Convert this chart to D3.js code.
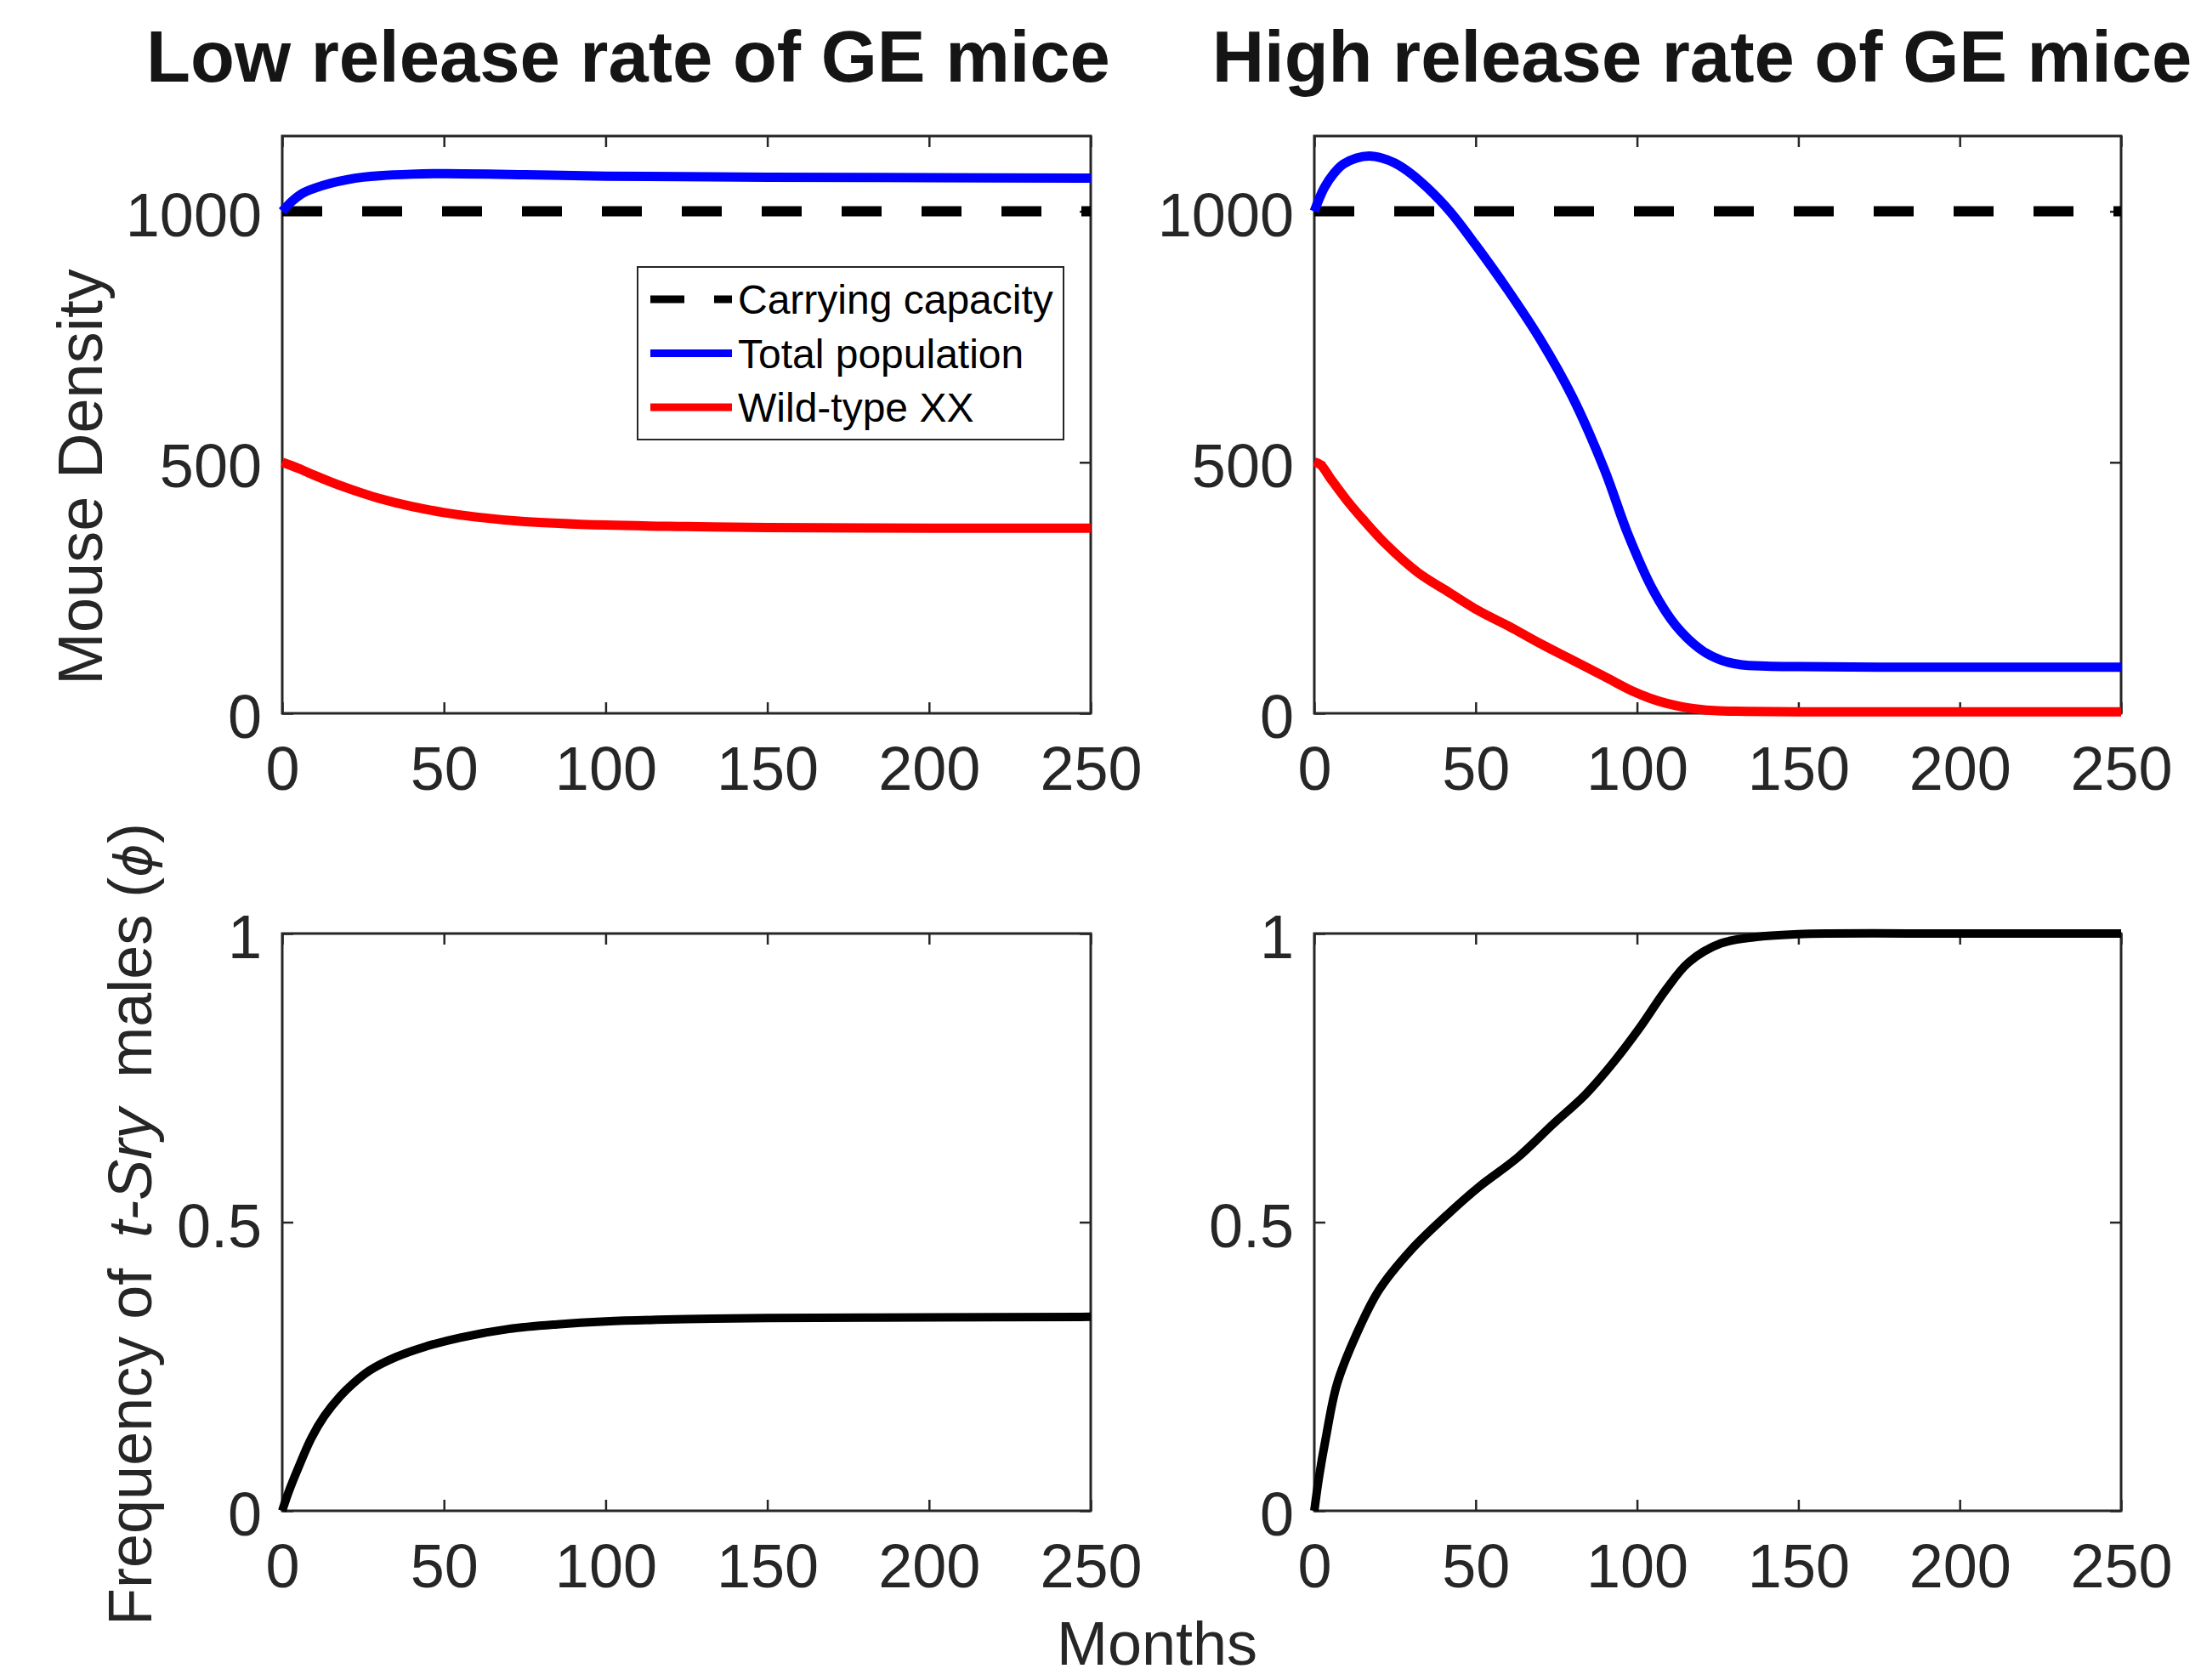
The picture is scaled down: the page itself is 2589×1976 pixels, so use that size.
<!DOCTYPE html>
<html>
<head>
<meta charset="utf-8">
<script src="https://cdn.jsdelivr.net/npm/d3@7"></script>
<style>
  html, body { margin: 0; padding: 0; background: #fff; }
  svg { display: block; }
</style>
</head>
<body>
<svg id="fig"></svg>
<script>
// ---- Data (months vs. mouse density / t-Sry male frequency) ----
const monthTicks = [0, 50, 100, 150, 200, 250];
const densityTicks = [0, 500, 1000];
const freqTicks = [0, 0.5, 1];
const freqTickLabels = ["0", "0.5", "1"];
const carryingCapacity = 1000;

const titles = ["Low release rate of GE mice", "High release rate of GE mice"];
const legendLabels = ["Carrying capacity", "Total population", "Wild-type XX"];

// Low release rate
const lowTotalMonths = [0, 3, 6, 10, 15, 20, 25, 30, 40, 50, 75, 100, 150, 200, 250];
const lowTotal       = [1000, 1020, 1035, 1046, 1056, 1063, 1068, 1071, 1074, 1075, 1073, 1070, 1068, 1067, 1066];

const lowXXMonths = [0, 5, 10, 15, 20, 25, 30, 40, 50, 60, 75, 100, 125, 150, 200, 250];
const lowXX       = [500, 488, 474, 461, 449, 438, 428, 412, 400, 391, 382, 375, 372, 370, 369, 369];

const lowPhiMonths = [0, 2, 5, 9, 13, 18, 22, 27, 35, 44, 55, 70, 85, 100, 125, 150, 200, 250];
const lowPhi       = [0, 0.033, 0.075, 0.126, 0.164, 0.199, 0.221, 0.243, 0.266, 0.284, 0.3, 0.315, 0.323, 0.328, 0.332, 0.334, 0.335, 0.336];

// High release rate
const highTotalMonths = [0, 3, 6, 9, 13, 17, 21, 25, 30, 35, 42, 50, 60, 70, 80, 90, 97, 105, 112, 120, 126, 132, 140, 150, 175, 200, 250];
const highTotal       = [1000, 1046, 1075, 1094, 1106, 1110, 1106, 1096, 1075, 1047, 1000, 933, 843, 745, 630, 484, 360, 245, 175, 126, 106, 97, 94, 93, 92, 92, 92];

const highXXMonths = [0, 2, 5, 10, 15, 22, 32, 42, 51, 61, 70, 80, 90, 99, 104, 109, 114, 118, 125, 134, 150, 200, 250];
const highXX       = [501, 495, 468, 425, 387, 338, 281, 240, 204, 171, 139, 106, 73, 43, 30, 20, 13, 9, 5, 4, 3, 3, 3];

const highPhiMonths = [0, 1.5, 3.5, 7, 13, 20, 30, 42, 51, 63, 74, 84, 93, 101, 109, 116, 126, 137, 150, 200, 250];
const highPhi       = [0, 0.06, 0.124, 0.219, 0.305, 0.382, 0.452, 0.517, 0.561, 0.612, 0.67, 0.721, 0.779, 0.838, 0.903, 0.95, 0.983, 0.994, 0.999, 1, 1];

// ---- Figure setup ----
const W = 2589, H = 1976;
const FONT = "'Liberation Sans', Arial, Helvetica, sans-serif";
const INK = "#262626";
const BLUE = "#0000ff", RED = "#ff0000", BLACK = "#000000";

const svg = d3.select("#fig").attr("width", W).attr("height", H)
  .attr("viewBox", `0 0 ${W} ${H}`);
svg.append("rect").attr("width", W).attr("height", H).attr("fill", "#fff");

const cols = [{ x0: 332, x1: 1283 }, { x0: 1546, x1: 2495 }];
const rows = [{ y0: 160, y1: 839 }, { y0: 1098, y1: 1777 }];

function zip(xs, ys) { return xs.map((m, i) => ({ m, v: ys[i] })); }

function makePanel(col, row, yDomain, yTicks, yFormat) {
  const x = d3.scaleLinear().domain([0, 250]).range([col.x0, col.x1]);
  const y = d3.scaleLinear().domain(yDomain).range([row.y1, row.y0]);
  const g = svg.append("g");

  const tick = 13;
  const styleAxis = (sel, showLabels, dy) => {
    sel.select(".domain").remove();
    sel.selectAll(".tick line").attr("stroke", INK).attr("stroke-width", 2.5);
    sel.selectAll(".tick text")
      .attr("fill", INK)
      .style("font-family", FONT)
      .style("font-size", "72px");
    if (dy !== undefined) sel.selectAll(".tick text").attr("dy", dy);
    if (!showLabels) sel.selectAll(".tick text").remove();
  };

  g.append("g").attr("transform", `translate(0,${row.y1})`)
    .call(d3.axisBottom(x).tickValues(monthTicks).tickSizeInner(-tick).tickSizeOuter(0).tickPadding(39))
    .call(s => styleAxis(s, true));
  g.append("g").attr("transform", `translate(0,${row.y0})`)
    .call(d3.axisTop(x).tickValues(monthTicks).tickSizeInner(-tick).tickSizeOuter(0))
    .call(s => styleAxis(s, false));
  g.append("g").attr("transform", `translate(${col.x0},0)`)
    .call(d3.axisLeft(y).tickValues(yTicks).tickFormat(yFormat).tickSizeInner(-tick).tickSizeOuter(0).tickPadding(24))
    .call(s => styleAxis(s, true, "0.4em"));
  g.append("g").attr("transform", `translate(${col.x1},0)`)
    .call(d3.axisRight(y).tickValues(yTicks).tickSizeInner(-tick).tickSizeOuter(0))
    .call(s => styleAxis(s, false));

  // axes box
  g.append("rect")
    .attr("x", col.x0).attr("y", row.y0)
    .attr("width", col.x1 - col.x0).attr("height", row.y1 - row.y0)
    .attr("fill", "none").attr("stroke", INK).attr("stroke-width", 3);

  return { g, x, y };
}

function drawLine(p, data, color, width, dash) {
  const line = d3.line().x(d => p.x(d.m)).y(d => p.y(d.v)).curve(d3.curveCatmullRom.alpha(0.5));
  const path = p.g.append("path").datum(data)
    .attr("d", line)
    .attr("fill", "none")
    .attr("stroke", color)
    .attr("stroke-width", width)
    .attr("stroke-linejoin", "round")
    .attr("stroke-linecap", "butt");
  if (dash) path.attr("stroke-dasharray", dash);
  return path;
}

// ---- Top row: mouse density ----
const densFmt = d3.format("d");
const capacityLine = [{ m: 0, v: carryingCapacity }, { m: 250, v: carryingCapacity }];

const pLowDen = makePanel(cols[0], rows[0], [0, 1150], densityTicks, densFmt);
drawLine(pLowDen, capacityLine, BLACK, 12, "47,47");
drawLine(pLowDen, zip(lowTotalMonths, lowTotal), BLUE, 11);
drawLine(pLowDen, zip(lowXXMonths, lowXX), RED, 11);

const pHighDen = makePanel(cols[1], rows[0], [0, 1150], densityTicks, densFmt);
drawLine(pHighDen, capacityLine, BLACK, 12, "47,47");
drawLine(pHighDen, zip(highTotalMonths, highTotal), BLUE, 11);
drawLine(pHighDen, zip(highXXMonths, highXX), RED, 11);

// ---- Bottom row: t-Sry male frequency ----
const freqFmt = (d, i) => freqTickLabels[i];
const pLowFreq = makePanel(cols[0], rows[1], [0, 1], freqTicks, freqFmt);
drawLine(pLowFreq, zip(lowPhiMonths, lowPhi), BLACK, 10);

const pHighFreq = makePanel(cols[1], rows[1], [0, 1], freqTicks, freqFmt);
drawLine(pHighFreq, zip(highPhiMonths, highPhi), BLACK, 10);

// ---- Legend (top-left panel) ----
const leg = svg.append("g");
const legBox = { x: 750, y: 314, w: 501, h: 203 };
leg.append("rect")
  .attr("x", legBox.x).attr("y", legBox.y)
  .attr("width", legBox.w).attr("height", legBox.h)
  .attr("fill", "#fff").attr("stroke", INK).attr("stroke-width", 2);
const legStyles = [
  { color: BLACK, dash: "40,35" },
  { color: BLUE, dash: null },
  { color: RED, dash: null }
];
legendLabels.forEach((lab, i) => {
  const cy = legBox.y + 38 + i * 63.5;
  const ln = leg.append("line")
    .attr("x1", legBox.x + 15).attr("x2", legBox.x + 111)
    .attr("y1", cy).attr("y2", cy)
    .attr("stroke", legStyles[i].color).attr("stroke-width", 9);
  if (legStyles[i].dash) ln.attr("stroke-dasharray", legStyles[i].dash);
  leg.append("text")
    .attr("x", legBox.x + 118).attr("y", cy + 17)
    .attr("fill", BLACK)
    .style("font-family", FONT).style("font-size", "48px")
    .text(lab);
});

// ---- Titles ----
const titleX = [739, 2002];
titles.forEach((t, i) => {
  svg.append("text")
    .attr("x", titleX[i]).attr("y", 96)
    .attr("text-anchor", "middle")
    .attr("fill", "#151515")
    .style("font-family", FONT).style("font-size", "85px").style("font-weight", "bold")
    .text(t);
});

// ---- Axis labels ----
svg.append("text")
  .attr("transform", "translate(120,561) rotate(-90)")
  .attr("text-anchor", "middle")
  .attr("fill", INK)
  .style("font-family", FONT).style("font-size", "74px")
  .text("Mouse Density");

const freqLabel = svg.append("text")
  .attr("transform", "translate(178,1440) rotate(-90)")
  .attr("text-anchor", "middle")
  .attr("fill", INK)
  .style("font-family", FONT).style("font-size", "72px");
freqLabel.append("tspan").text("Frequency of");
freqLabel.append("tspan").attr("dx", 36).style("font-style", "italic").text("t-Sry");
freqLabel.append("tspan").attr("dx", 36).text("males (");
freqLabel.append("tspan").style("font-style", "italic").style("font-family", "'DejaVu Sans', sans-serif").style("font-weight", "300").style("font-size", "60px").text("ϕ");
freqLabel.append("tspan").text(")");

svg.append("text")
  .attr("x", 1361).attr("y", 1958)
  .attr("text-anchor", "middle")
  .attr("fill", INK)
  .style("font-family", FONT).style("font-size", "72px")
  .text("Months");
</script>
</body>
</html>
